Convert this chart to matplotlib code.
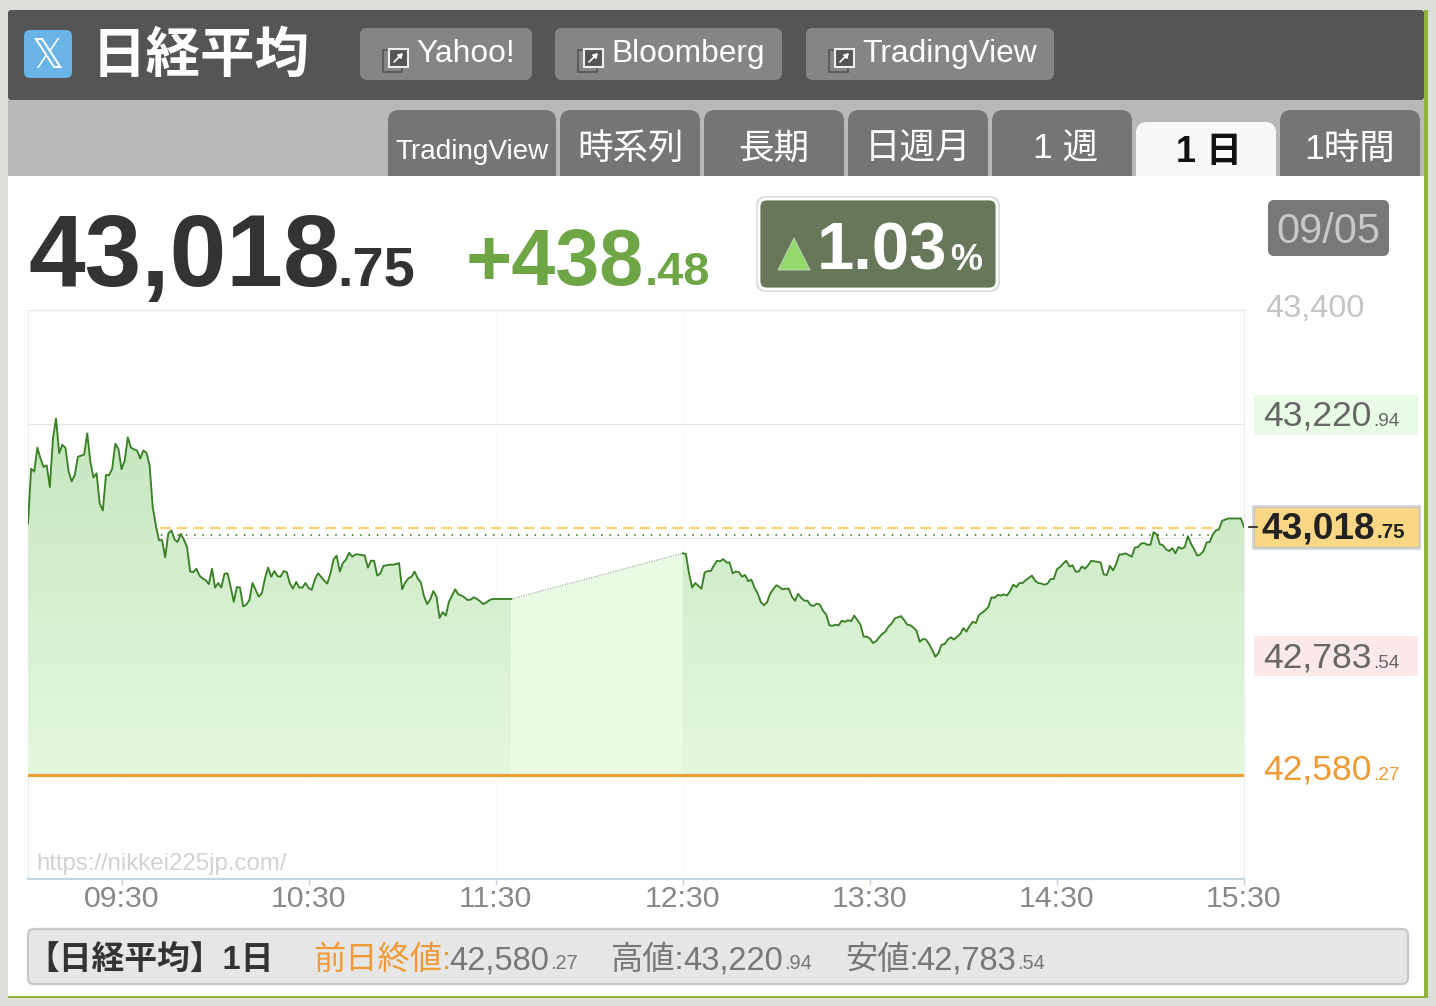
import numpy as np
import matplotlib
matplotlib.use("Agg")
import matplotlib.pyplot as plt
from matplotlib.patches import FancyBboxPatch, Rectangle, Polygon
from matplotlib.transforms import ScaledTranslation
from matplotlib.colors import LinearSegmentedColormap

plt.rcParams['font.family'] = ['Liberation Sans', 'Noto Sans CJK JP', 'DejaVu Sans']

# =========================
# DATA (one value per minute)
# =========================

am_prices = [
    43026, 43122, 43117, 43159, 43140, 43125, 43128, 43090, 43175, 43210,
    43149, 43164, 43159, 43118, 43100, 43111, 43143, 43145, 43147, 43184,
    43134, 43107, 43114, 43061, 43049, 43111, 43111, 43122, 43166, 43157,
    43121, 43136, 43177, 43159, 43156, 43154, 43140, 43154, 43150, 43128,
    43055, 43023, 42997, 42997, 42967, 43009, 43014, 42998, 42994, 43008,
    42998, 42985, 42942, 42941, 42947, 42935, 42930, 42927, 42920, 42947,
    42914, 42922, 42914, 42938, 42939, 42915, 42889, 42915, 42914, 42881,
    42884, 42892, 42922, 42910, 42898, 42904, 42930, 42949, 42933, 42943,
    42934, 42933, 42943, 42941, 42921, 42912, 42924, 42914, 42914, 42922,
    42913, 42910, 42928, 42939, 42933, 42926, 42921, 42939, 42963, 42970,
    42942, 42957, 42963, 42975, 42968, 42972, 42972, 42971, 42970, 42949,
    42961, 42961, 42935, 42939, 42952, 42953, 42954, 42954, 42955, 42957,
    42911, 42923, 42930, 42933, 42942, 42930, 42923, 42899, 42885, 42893,
    42908, 42898, 42861, 42871, 42865, 42889, 42900, 42911, 42902, 42900,
    42897, 42892, 42893, 42897, 42894, 42890, 42885, 42888, 42892, 42894,
    42894, 42894, 42894, 42894, 42894, 42894,
]

pm_prices = [
    42974, 42973, 42939, 42914, 42922, 42917, 42912, 42940, 42943, 42943,
    42953, 42961, 42960, 42964, 42958, 42958, 42939, 42942, 42941, 42933,
    42936, 42925, 42928, 42914, 42904, 42889, 42883, 42888, 42903, 42911,
    42918, 42915, 42911, 42912, 42912, 42898, 42891, 42903, 42896, 42891,
    42891, 42883, 42882, 42886, 42884, 42873, 42867, 42848, 42847, 42849,
    42848, 42856, 42854, 42857, 42855, 42865, 42857, 42849, 42828, 42828,
    42825, 42817, 42820, 42827, 42833, 42837, 42846, 42851, 42860, 42862,
    42864, 42857, 42849, 42848, 42844, 42838, 42819, 42824, 42823, 42815,
    42805, 42793, 42799, 42814, 42815, 42823, 42827, 42823, 42828, 42833,
    42843, 42837, 42847, 42854, 42852, 42866, 42870, 42874, 42880, 42897,
    42896, 42901, 42900, 42902, 42900, 42908, 42919, 42915, 42922, 42922,
    42927, 42931, 42935, 42926, 42922, 42921, 42919, 42921, 42929, 42929,
    42946, 42950, 42956, 42961, 42951, 42953, 42942, 42942, 42951, 42947,
    42953, 42961, 42960, 42959, 42958, 42937, 42936, 42952, 42944, 42955,
    42972, 42972, 42974, 42971, 42968, 42984, 42985, 42991, 42992, 42989,
    42989, 43011, 43007, 42990, 42988, 42981, 42978, 42983, 42974, 42985,
    42982, 42985, 43004, 42991, 42981, 42970, 42972, 42978, 42993, 42994,
    43007, 43014, 43016, 43031, 43033, 43035, 43035, 43035, 43035, 43035,
    43020,
]

am_start = 0      # 09:00
pm_start = 210    # 12:30

current_price = 43018.75
open_price = 43006
prev_close_level = 42586

time_ticks = [30, 90, 150, 210, 270, 330, 390]
time_labels = ["09:30", "10:30", "11:30", "12:30", "13:30", "14:30", "15:30"]
# only the top price label is visible, the value boxes cover the others
price_ticks = [43400, 43200, 43000, 42800, 42600]
price_labels = ["43,400", "", "", "", ""]

link_names = ["Yahoo!", "Bloomberg", "TradingView"]
tab_names = ["TradingView", "時系列", "長期", "日週月", "1 週", "1 日", "1時間"]

# =========================
# FIGURE AND LAYERS
# =========================

W, H = 1436, 1006
fig = plt.figure(figsize=(W / 100, H / 100), dpi=100, facecolor="#dfdfdb")


def pixel_axes(zorder):
    a = fig.add_axes([0, 0, 1, 1], zorder=zorder)
    a.set_xlim(0, W)
    a.set_ylim(H, 0)
    a.axis("off")
    a.patch.set_alpha(0)
    return a


back = pixel_axes(0)
front = pixel_axes(2)


def box(a, x0, y0, x1, y1, color, radius=0, edge="none", lw=0, zorder=1):
    if radius:
        p = FancyBboxPatch((x0, y0), x1 - x0, y1 - y0,
                           boxstyle=f"round,pad=0,rounding_size={radius}",
                           facecolor=color, edgecolor=edge, linewidth=lw, zorder=zorder)
    else:
        p = Rectangle((x0, y0), x1 - x0, y1 - y0, facecolor=color,
                      edgecolor=edge, linewidth=lw, zorder=zorder)
    a.add_patch(p)


def label(a, x, y, s, px, color, weight="normal", ha="left", va="baseline", zorder=5):
    a.text(x, y, s, fontsize=px * 0.72, color=color, fontweight=weight,
           ha=ha, va=va, zorder=zorder)


# =========================
# HEADER, BUTTONS, TABS
# =========================

box(back, 8, 100, 1424, 180, "#b8b8b8")
box(back, 8, 10, 1424, 100, "#555555", radius=3)

box(back, 24, 30, 72, 78, "#6ab4e8", radius=6)
label(back, 48, 57, "𝕏", 40, "white", ha="center", va="center")
label(back, 92, 72, "日経平均", 54.5, "white", weight="bold")

link_boxes = [(360, 532), (555, 782), (806, 1054)]
link_text_x = [416, 611, 862]
for (x0, x1), tx, name in zip(link_boxes, link_text_x, link_names):
    box(back, x0, 28, x1, 80, "#858585", radius=7, zorder=2)
    ix = x0 + 23
    box(back, ix, 50, ix + 19, 72, "none", edge="#555555", lw=1.2, zorder=3)
    box(back, ix + 6, 49, ix + 25, 67, "#555555", edge="#eeeeee", lw=1.5, zorder=4)
    back.annotate("", xy=(ix + 20, 53), xytext=(ix + 11, 62), zorder=5,
                  arrowprops=dict(arrowstyle="-|>,head_width=0.15,head_length=0.25",
                                  color="white", lw=1.2, shrinkA=0, shrinkB=0))
    label(back, tx, 62, name, 31.8, "white", zorder=5)

tab_boxes = [(388, 556), (560, 700), (704, 844), (848, 988), (992, 1132), (1136, 1276), (1280, 1420)]
tab_sizes = [27.9, 35.5, 35.5, 35.5, 35.5, 36, 35.5]
tab_shift = [0, 0, 0, 0, 4, 3, 0]
for (x0, x1), name, size, dx in zip(tab_boxes, tab_names, tab_sizes, tab_shift):
    active = name == "1 日"
    top = 122 if active else 110
    box(back, x0, top, x1, 200, "#f7f7f7" if active else "#757575", radius=11, zorder=2)
    label(back, (x0 + x1) / 2 + dx, 162 if active else 159, name, size,
          "#111111" if active else "white", weight="bold" if active else "normal", ha="center", zorder=3)

# white panel with green edges
box(back, 8, 176, 1424, 996, "white", zorder=6)
box(back, 1424, 10, 1428, 998, "#8fb33c", zorder=7)
box(back, 8, 996, 1428, 998, "#8fb33c", zorder=7)

# =========================
# PRICE HEADLINE
# =========================

label(back, 28, 286, "43,018", 102, "#333333", weight="bold", zorder=8)
label(back, 337, 286, ".75", 56, "#333333", weight="bold", zorder=8)
label(back, 466, 285, "+438", 79, "#6ea646", weight="bold", zorder=8)
label(back, 645, 285, ".48", 47, "#6ea646", weight="bold", zorder=8)

box(back, 756, 196, 1000, 292, "#dcdcdc", radius=10, zorder=7)
box(back, 759, 199, 997, 289, "#66775a", radius=8, edge="white", lw=2, zorder=8)
back.add_patch(Polygon([(778, 270), (794, 238), (810, 270)], closed=True,
                       facecolor="#94d96b", edgecolor="#c8d8c0", lw=0.6, zorder=9))
label(back, 817, 270, "1.03", 67, "white", weight="bold", zorder=9)
label(back, 950, 270, "%", 36, "white", weight="bold", zorder=9)

box(back, 1268, 200, 1389, 256, "#787878", radius=6, zorder=8)
label(back, 1328, 243, "09/05", 41.5, "#c8c8c8", ha="center", zorder=9)

# =========================
# CHART
# =========================

ax_top, ax_bottom, ax_left, ax_right = 310, 879, 28, 1244
ax = fig.add_axes([ax_left / W, 1 - ax_bottom / H, (ax_right - ax_left) / W, (ax_bottom - ax_top) / H],
                  zorder=1)
ax.patch.set_alpha(0)

am_x = am_start + np.arange(len(am_prices))
pm_x = pm_start + np.arange(len(pm_prices))

ax.axhline(current_price, color="#f9d477", lw=1.7, ls=(0, (4.5, 2.5)), zorder=2)
ax.axhline(open_price, color="#3a8026", lw=1.3, ls=(0, (0.8, 3.8)), zorder=2)

# lunch break block
lunch_x = [am_x[-1], pm_x[0]]
lunch_y = [am_prices[-1], pm_prices[0]]
ax.fill_between(lunch_x, lunch_y, prev_close_level, color="#e8fce3", lw=0, zorder=3)
ax.plot(lunch_x, lunch_y, color="#aaaaaa", lw=0.9, ls=(0, (1, 1)), zorder=4)

# gradient area under each session
cmap = LinearSegmentedColormap.from_list("area", ["#c6e6bf", "#e4f8de"])
for sx, sy in [(am_x, am_prices), (pm_x, pm_prices)]:
    poly = ax.fill_between(sx, sy, prev_close_level, color="none", lw=0)
    im = ax.imshow(np.linspace(0, 1, 256).reshape(-1, 1), cmap=cmap, aspect="auto",
                   extent=[0, 390, prev_close_level, max(am_prices)], origin="upper", zorder=3)
    im.set_clip_path(poly.get_paths()[0], transform=ax.transData)
    ax.plot(sx, sy, color="#3a8026", lw=1.35, zorder=5, solid_joinstyle="round")

ax.axhline(prev_close_level, color="#f0a033", lw=2.3, zorder=6)

ax.set_xlim(0, 390)
ax.set_ylim(43200 - 1.75 * (ax_bottom - 424), 43400)
ax.set_xticks(time_ticks, time_labels)
ax.yaxis.tick_right()
ax.set_yticks(price_ticks, price_labels)
ax.set_axisbelow(True)
ax.grid(axis="x", color="#fafafa", lw=0.7)
ax.grid(axis="y", color="#e4e4e4", lw=0.8)
ax.tick_params(axis="x", length=4.5, width=1, color="#c5d3e3", labelcolor="#888888",
               labelsize=21.8, pad=0)
ax.tick_params(axis="y", length=0, labelcolor="#c4c4c4", labelsize=23.4, pad=15)
shift = ScaledTranslation(0, 5 / 100, fig.dpi_scale_trans)
for t in ax.get_yticklabels():
    t.set_transform(t.get_transform() + shift)

for side, color, lw in [("top", "#e6e6e6", 0.8), ("left", "#eeeeee", 1), ("right", "#eeeeee", 1),
                        ("bottom", "#c5d3e3", 1.5)]:
    ax.spines[side].set_color(color)
    ax.spines[side].set_linewidth(lw)

label(front, 36, 870, "https://nikkei225jp.com/", 24, "#d2d2d2")

# =========================
# RIGHT SIDE VALUE LABELS
# =========================

box(front, 1254, 395, 1418, 435, "#e9fce6")
label(front, 1263, 426, "43,220", 35.5, "#666666")
label(front, 1373, 426, ".94", 19, "#666666")

box(front, 1254, 636, 1418, 676, "#fbe8e8")
label(front, 1263, 668, "42,783", 35.5, "#666666")
label(front, 1373, 668, ".54", 19, "#666666")

box(front, 1254, 750, 1418, 792, "white")
label(front, 1263, 780, "42,580", 35.5, "#f09a36")
label(front, 1373, 780, ".27", 19, "#f09a36")

box(front, 1252, 505, 1421, 550, "#d8d8d8")
box(front, 1254, 507, 1419, 547, "#fad785", edge="#c4c4c4", lw=1)
label(front, 1262, 538, "43,018", 37, "#222222", weight="bold")
label(front, 1377, 538, ".75", 20.5, "#222222", weight="bold")
front.plot([1249, 1257], [527, 527], color="#222222", lw=1.2, zorder=5)

# =========================
# FOOTER
# =========================

box(front, 28, 929, 1408, 984, "#e6e6e6", radius=6, edge="#c8c8c8", lw=1.6)
label(front, 26, 969, "【日経平均】1日", 32.8, "#333333", weight="bold")
label(front, 313, 969, "前日終値:", 32.3, "#f09a36")
label(front, 449, 969, "42,580", 32.7, "#777777")
label(front, 550, 969, ".27", 20, "#777777")
label(front, 611, 969, "高値:", 32.3, "#777777")
label(front, 683, 969, "43,220", 32.7, "#777777")
label(front, 784, 969, ".94", 20, "#777777")
label(front, 845, 969, "安値:", 32.3, "#777777")
label(front, 916, 969, "42,783", 32.7, "#777777")
label(front, 1017, 969, ".54", 20, "#777777")

fig.savefig("out.png", dpi=100, facecolor=fig.get_facecolor())
